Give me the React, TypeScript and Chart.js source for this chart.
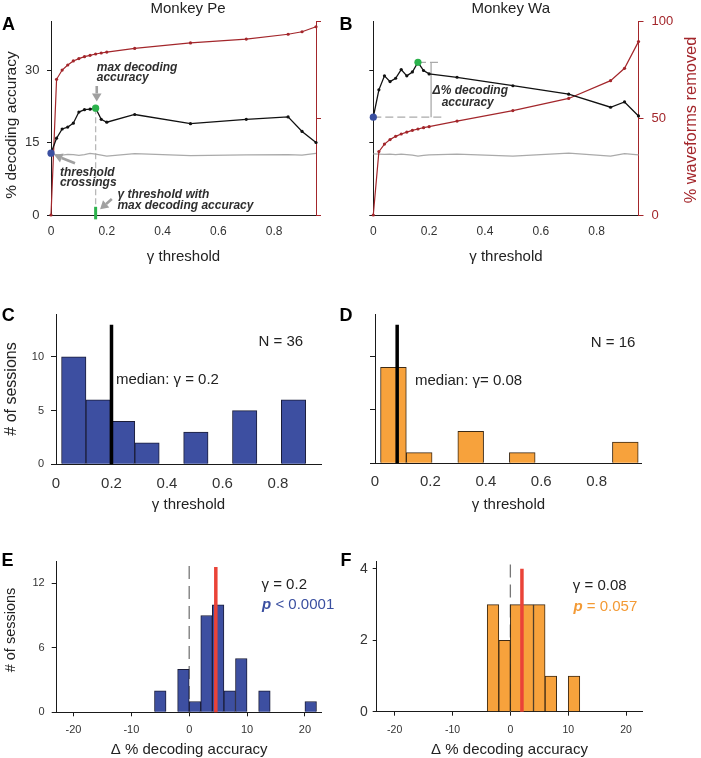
import React, { useEffect, useRef } from 'react';
import { Chart, registerables } from 'chart.js';

Chart.register(...registerables);

const FONT = "'Liberation Sans', Arial, Helvetica, sans-serif";
Chart.defaults.font.family = FONT;

// ---------------- data ----------------
const gammaSteps = [0, 0.02, 0.04, 0.06, 0.08, 0.1, 0.12, 0.14, 0.16, 0.18, 0.2, 0.3, 0.5, 0.7, 0.85, 0.9, 0.95];
const peAccuracy = [12.8, 15.9, 17.8, 18.2, 19.0, 21.3, 21.8, 21.9, 22.1, 19.8, 19.2, 20.8, 18.9, 19.8, 20.3, 17.3, 15.0];
const peRemoved = [0, 70.2, 75.0, 77.6, 79.7, 80.9, 81.9, 82.6, 83.3, 83.8, 84.3, 86.2, 89.0, 91.0, 93.5, 94.8, 97.4];
const peChance = [12.6, 12.5, 12.4, 12.55, 12.5, 12.35, 12.5, 12.75, 12.6, 12.4, 12.2, 12.7, 12.3, 12.45, 12.5, 12.4, 12.75];
const waAccuracy = [20.25, 25.9, 28.8, 27.6, 28.3, 30.1, 28.8, 29.6, 31.6, 29.9, 29.2, 28.5, 26.75, 25.0, 22.3, 23.4, 20.5];
const waRemoved = [0, 32.8, 36.7, 39.0, 40.7, 41.9, 42.9, 43.8, 44.5, 45.2, 45.7, 48.6, 54.0, 60.3, 69.5, 75.9, 89.7];
const waChance = [12.65, 12.6, 12.55, 12.6, 12.5, 12.6, 12.5, 12.4, 12.2, 12.35, 12.45, 12.6, 12.2, 12.8, 12.2, 12.7, 12.45];

const gammaTicks = [0, 0.2, 0.4, 0.6, 0.8];
const accuracyTicks = [0, 15, 30];
const removedTicks = [0, 50, 100];

const peBestGammaCenters = [0.064, 0.152, 0.24, 0.328, 0.416, 0.504, 0.592, 0.68, 0.768, 0.856];
const peBestGammaCounts = [10, 6, 4, 2, 0, 3, 0, 5, 0, 6];
const waBestGammaCenters = [0.0665, 0.1595, 0.2525, 0.3455, 0.4385, 0.5315, 0.6245, 0.7175, 0.8105, 0.9035];
const waBestGammaCounts = [9, 1, 0, 3, 0, 1, 0, 0, 0, 2];
const peMedianGamma = 0.2;
const waMedianGamma = 0.08;
const gammaSessionTicks = [0, 5, 10];

const peDeltaCenters = [-5, -3, -1, 1, 3, 5, 7, 9, 11, 13, 15, 17, 19, 21];
const peDeltaCounts = [2, 0, 4, 1, 9, 10, 2, 5, 0, 2, 0, 0, 0, 1];
const waDeltaCenters = [-3, -1, 1, 3, 5, 7, 9, 11];
const waDeltaCounts = [3, 2, 3, 3, 3, 1, 0, 1];
const peMedianDelta = 4.6;
const waMedianDelta = 2.0;
const deltaTicks = [-20, -10, 0, 10, 20];
const peDeltaSessionTicks = [0, 6, 12];
const waDeltaSessionTicks = [0, 2, 4];

// ---------------- styles ----------------
const DARKRED = '#a3262b';
const BLUE_DOT = '#3a4fa0';
const GREEN = '#2bb24c';
const BLUE_BAR = '#3d4fa1';
const ORANGE = '#f7a23c';
const ORANGE_TXT = '#f39a35';
const RED_LINE = '#ea4338';
const GRAY_LINE = '#aaaaaa';
const AXIS = '#1a1a1a';
const TICK = '#333333';
const TXT = '#222222';
const ANN = '#2e2e2e';
const ARROW = '#a0a0a0';

const peMax = peAccuracy.indexOf(Math.max(...peAccuracy));
const waMax = waAccuracy.indexOf(Math.max(...waAccuracy));

// ---------------- helpers ----------------
function axis(o: any) {
  const horiz = o.position === 'bottom';
  const tl = o.tickLen ?? 0;
  return {
    type: 'linear',
    position: o.position,
    min: o.min,
    max: o.max,
    offset: false,
    afterBuildTicks: (s: any) => {
      s.ticks = o.ticks.map((v: number) => ({ value: v }));
    },
    afterFit: (s: any) => {
      if (horiz) s.height = o.size;
      else s.width = o.size;
    },
    ticks: {
      display: o.showLabels !== false,
      font: { size: o.labelFont ?? 12 },
      color: o.labelColor ?? TICK,
      padding: o.labelPad ?? 6,
      autoSkip: false,
      maxRotation: 0,
      minRotation: 0,
      callback: (v: any) => String(v),
    },
    grid: {
      display: true,
      offset: false,
      drawOnChartArea: false,
      drawTicks: tl > 0,
      tickLength: tl,
      tickWidth: 1,
      color: o.lineColor ?? AXIS,
    },
    border: { display: true, color: o.lineColor ?? AXIS, width: 1 },
    title: o.title
      ? {
          display: true,
          text: o.title,
          font: { size: o.titleFont ?? 15, lineHeight: o.titleLH ?? 1.2 },
          color: TXT,
          padding: { top: 0, bottom: o.titlePad ?? 4 },
        }
      : { display: false },
  };
}

function base(padding: any, scales: any) {
  return {
    responsive: false,
    animation: false,
    events: [],
    layout: { padding, autoPadding: false },
    plugins: { legend: { display: false }, tooltip: { enabled: false }, title: { display: false } },
    scales,
  };
}

function overlay(under: (c: any) => void, over: (c: any) => void) {
  return {
    id: 'overlay',
    beforeDatasetsDraw(c: any) {
      c.ctx.save();
      under(c);
      c.ctx.restore();
    },
    afterDraw(c: any) {
      c.ctx.save();
      over(c);
      c.ctx.restore();
    },
  };
}

function txt(ctx: any, s: string, x: number, y: number, font: string, color: string, align = 'left', baseline = 'alphabetic') {
  ctx.save();
  ctx.font = font;
  ctx.fillStyle = color;
  ctx.textAlign = align;
  ctx.textBaseline = baseline;
  ctx.fillText(s, x, y);
  ctx.restore();
}

function vtxt(ctx: any, s: string, cx: number, cy: number, font: string, color: string) {
  ctx.save();
  ctx.translate(cx, cy);
  ctx.rotate(-Math.PI / 2);
  ctx.font = font;
  ctx.fillStyle = color;
  ctx.textAlign = 'center';
  ctx.textBaseline = 'middle';
  ctx.fillText(s, 0, 0);
  ctx.restore();
}

function rich(ctx: any, parts: [string, string][], x: number, y: number, color: string) {
  ctx.save();
  ctx.fillStyle = color;
  ctx.textAlign = 'left';
  ctx.textBaseline = 'alphabetic';
  let cx = x;
  for (const [s, f] of parts) {
    ctx.font = f;
    ctx.fillText(s, cx, y);
    cx += ctx.measureText(s).width;
  }
  ctx.restore();
}

function seg(ctx: any, x1: number, y1: number, x2: number, y2: number, color: string, w: number, dash: number[] = []) {
  ctx.save();
  ctx.strokeStyle = color;
  ctx.lineWidth = w;
  ctx.setLineDash(dash);
  ctx.beginPath();
  ctx.moveTo(x1, y1);
  ctx.lineTo(x2, y2);
  ctx.stroke();
  ctx.restore();
}

function arrow(ctx: any, x1: number, y1: number, x2: number, y2: number, color: string, w = 2.6, hl = 8, hw = 4.8) {
  const a = Math.atan2(y2 - y1, x2 - x1);
  const bx = x2 - hl * Math.cos(a);
  const by = y2 - hl * Math.sin(a);
  ctx.save();
  ctx.strokeStyle = color;
  ctx.fillStyle = color;
  ctx.lineWidth = w;
  ctx.beginPath();
  ctx.moveTo(x1, y1);
  ctx.lineTo(bx, by);
  ctx.stroke();
  ctx.beginPath();
  ctx.moveTo(x2, y2);
  ctx.lineTo(bx + hw * Math.sin(a), by - hw * Math.cos(a));
  ctx.lineTo(bx - hw * Math.sin(a), by + hw * Math.cos(a));
  ctx.closePath();
  ctx.fill();
  ctx.restore();
}

const f = (size: number, style = '') => `${style} ${size}px ${FONT}`.trim();
const BI12 = f(12, 'italic bold');

function series(vals: number[], color: string, w: number, pr: number, order: number, yAxisID: string) {
  return {
    type: 'line',
    data: gammaSteps.map((g, i) => ({ x: g, y: vals[i] })),
    borderColor: color,
    backgroundColor: color,
    borderWidth: w,
    pointRadius: pr,
    pointHoverRadius: pr,
    pointBackgroundColor: color,
    pointBorderWidth: 0,
    tension: 0,
    fill: false,
    order,
    yAxisID,
    clip: false,
  };
}

function dot(x: number, y: number, color: string) {
  return {
    type: 'line',
    data: [{ x, y }],
    showLine: false,
    pointRadius: 3.6,
    pointHoverRadius: 3.6,
    pointBackgroundColor: color,
    pointBorderWidth: 0,
    order: 0,
    yAxisID: 'y',
    clip: false,
  };
}

function bars(centers: number[], counts: number[], color: string, border: string) {
  return {
    type: 'bar',
    data: centers.map((c, i) => ({ x: c, y: counts[i] })),
    backgroundColor: color,
    borderColor: border,
    borderWidth: 1,
    barPercentage: 1,
    categoryPercentage: 1,
    order: 1,
  };
}

function vline(xv: number, yTop: number, color: string, w: number, order: number, dash: number[] = []) {
  return {
    type: 'line',
    data: [
      { x: xv, y: yTop },
      { x: xv, y: 0 },
    ],
    borderColor: color,
    borderWidth: w,
    borderDash: dash,
    borderCapStyle: 'butt',
    pointRadius: 0,
    pointHoverRadius: 0,
    order,
    clip: false,
  };
}

// ---------------- panel A ----------------
const makeA = () => ({
  type: 'line',
  data: {
    datasets: [
      dot(gammaSteps[0], peAccuracy[0], BLUE_DOT),
      dot(gammaSteps[peMax], peAccuracy[peMax], GREEN),
      series(peAccuracy, '#111111', 1.3, 1.6, 1, 'y'),
      series(peRemoved, DARKRED, 1.2, 1.6, 2, 'yR'),
      series(peChance, GRAY_LINE, 1.2, 0, 3, 'y'),
    ],
  },
  options: base(
    { top: 21.7, left: 0, right: 0, bottom: 0 },
    {
      x: axis({ position: 'bottom', min: 0, max: 0.95, ticks: gammaTicks, size: 60, labelFont: 12, labelPad: 9.5, title: 'γ threshold', titleFont: 15, titlePad: 9 }),
      y: axis({ position: 'left', min: 0, max: 40, ticks: accuracyTicks, size: 51, labelFont: 13, labelPad: 7.5, tickLen: 4 }),
      yR: axis({ position: 'right', min: 0, max: 100, ticks: removedTicks, size: 34, showLabels: false, tickLen: 5, lineColor: DARKRED }),
    }
  ),
  plugins: [
    overlay(
      (c) => {
        const { ctx } = c;
        const X = (v: number) => c.scales.x.getPixelForValue(v);
        const Y = (v: number) => c.scales.y.getPixelForValue(v);
        const bx = X(gammaSteps[peMax]);
        seg(ctx, bx, Y(peAccuracy[peMax]), bx, Y(1.7), '#b8b8b8', 1.3, [6, 3]);
        seg(ctx, bx, Y(1.7), bx, Y(-0.9), GREEN, 3);
      },
      (c) => {
        const { ctx } = c;
        const X = (v: number) => c.scales.x.getPixelForValue(v);
        const Y = (v: number) => c.scales.y.getPixelForValue(v);
        txt(ctx, 'A', 8.5, 25, f(18, 'bold'), '#000', 'center', 'middle');
        txt(ctx, 'Monkey Pe', 188, 9, f(15), TXT, 'center', 'middle');
        vtxt(ctx, '% decoding accuracy', 12, 125, f(15.5), TXT);
        txt(ctx, 'max decoding', X(0.164), Y(29.9), BI12, ANN);
        txt(ctx, 'accuracy', X(0.164), Y(27.65), BI12, ANN);
        arrow(ctx, X(0.164), Y(26.7), X(0.164), Y(23.5), ARROW);
        txt(ctx, 'threshold', X(0.032), Y(8.0), BI12, ANN);
        txt(ctx, 'crossings', X(0.032), Y(6.1), BI12, ANN);
        arrow(ctx, X(0.086), Y(10.7), X(0.012), Y(12.4), ARROW);
        txt(ctx, 'γ threshold with', X(0.238), Y(3.5), BI12, ANN);
        txt(ctx, 'max decoding accuracy', X(0.238), Y(1.3), BI12, ANN);
        arrow(ctx, X(0.218), Y(3.3), X(0.176), Y(1.2), ARROW);
      }
    ),
  ],
});

// ---------------- panel B ----------------
const makeB = () => ({
  type: 'line',
  data: {
    datasets: [
      dot(gammaSteps[0], waAccuracy[0], BLUE_DOT),
      dot(gammaSteps[waMax], waAccuracy[waMax], GREEN),
      series(waAccuracy, '#111111', 1.3, 1.6, 1, 'y'),
      series(waRemoved, DARKRED, 1.2, 1.6, 2, 'yR'),
      series(waChance, GRAY_LINE, 1.2, 0, 3, 'y'),
    ],
  },
  options: base(
    { top: 21.7, left: 0, right: 0, bottom: 0 },
    {
      x: axis({ position: 'bottom', min: 0, max: 0.95, ticks: gammaTicks, size: 60, labelFont: 12, labelPad: 9.5, title: 'γ threshold', titleFont: 15, titlePad: 9 }),
      y: axis({ position: 'left', min: 0, max: 40, ticks: accuracyTicks, size: 38.3, showLabels: false, tickLen: 4 }),
      yR: axis({ position: 'right', min: 0, max: 100, ticks: removedTicks, size: 62.5, labelFont: 13, labelPad: 8, labelColor: DARKRED, tickLen: 5, lineColor: DARKRED }),
    }
  ),
  plugins: [
    overlay(
      (c) => {
        const { ctx } = c;
        const X = (v: number) => c.scales.x.getPixelForValue(v);
        const Y = (v: number) => c.scales.y.getPixelForValue(v);
        const yb = Y(waAccuracy[0]);
        const yg = Y(waAccuracy[waMax]);
        seg(ctx, X(gammaSteps[0]), yb, X(0.245), yb, '#aaaaaa', 1.3, [8, 4]);
        seg(ctx, X(gammaSteps[waMax]), yg, X(0.245), yg, '#aaaaaa', 1.3, [8, 4]);
        seg(ctx, X(0.207), yg, X(0.207), yb, '#aaaaaa', 1.3);
      },
      (c) => {
        const { ctx } = c;
        const X = (v: number) => c.scales.x.getPixelForValue(v);
        const Y = (v: number) => c.scales.y.getPixelForValue(v);
        txt(ctx, 'B', 11, 25, f(18, 'bold'), '#000', 'center', 'middle');
        txt(ctx, 'Monkey Wa', 175.7, 9, f(15), TXT, 'center', 'middle');
        vtxt(ctx, '% waveforms removed', 356.7, 120, f(16.4), DARKRED);
        txt(ctx, 'Δ% decoding', X(0.2125), Y(25.0), BI12, ANN);
        txt(ctx, 'accuracy', X(0.245), Y(22.55), BI12, ANN);
      }
    ),
  ],
});

// ---------------- panel C ----------------
const makeC = () => ({
  type: 'bar',
  data: {
    datasets: [
      vline(peMedianGamma, 13, '#000000', 3.5, 0),
      bars(peBestGammaCenters, peBestGammaCounts, BLUE_BAR, '#1b1d38'),
    ],
  },
  options: base(
    { top: 19, left: 0, right: 29, bottom: 0 },
    {
      x: axis({ position: 'bottom', min: 0, max: 0.955, ticks: gammaTicks, size: 55.7, labelFont: 15, labelPad: 10.7, title: 'γ threshold', titleFont: 15, titlePad: 6 }),
      y: axis({ position: 'left', min: 0, max: 14, ticks: gammaSessionTicks, size: 56, labelFont: 11, labelPad: 7, tickLen: 5 }),
    }
  ),
  plugins: [
    overlay(
      () => {},
      (c) => {
        const { ctx } = c;
        const X = (v: number) => c.scales.x.getPixelForValue(v);
        const Y = (v: number) => c.scales.y.getPixelForValue(v);
        txt(ctx, 'C', 8.3, 21, f(18, 'bold'), '#000', 'center', 'middle');
        vtxt(ctx, '# of sessions', 11.7, 94, f(16), TXT);
        txt(ctx, 'N = 36', X(0.73), Y(11.05), f(15), TXT);
        txt(ctx, 'median: γ = 0.2', X(0.216), Y(7.5), f(15), TXT);
      }
    ),
  ],
});

// ---------------- panel D ----------------
const makeD = () => ({
  type: 'bar',
  data: {
    datasets: [
      vline(waMedianGamma, 13, '#000000', 3.5, 0),
      bars(waBestGammaCenters, waBestGammaCounts, ORANGE, '#3d2a14'),
    ],
  },
  options: base(
    { top: 19, left: 0, right: 59.2, bottom: 0 },
    {
      x: axis({ position: 'bottom', min: 0, max: 0.963, ticks: gammaTicks, size: 56.7, labelFont: 15, labelPad: 9.4, title: 'γ threshold', titleFont: 15, titlePad: 6 }),
      y: axis({ position: 'left', min: 0, max: 14, ticks: gammaSessionTicks, size: 40, showLabels: false, tickLen: 5 }),
    }
  ),
  plugins: [
    overlay(
      () => {},
      (c) => {
        const { ctx } = c;
        const X = (v: number) => c.scales.x.getPixelForValue(v);
        const Y = (v: number) => c.scales.y.getPixelForValue(v);
        txt(ctx, 'D', 11, 21, f(18, 'bold'), '#000', 'center', 'middle');
        txt(ctx, 'N = 16', X(0.779), Y(10.95), f(15), TXT);
        txt(ctx, 'median: γ= 0.08', X(0.1444), Y(7.38), f(15), TXT);
      }
    ),
  ],
});

// ---------------- panel E ----------------
const makeE = () => ({
  type: 'bar',
  data: {
    datasets: [
      vline(peMedianDelta, 13.5, RED_LINE, 3.5, 0),
      bars(peDeltaCenters, peDeltaCounts, BLUE_BAR, '#1b1d38'),
      vline(0, 13.6, '#777777', 1.3, 2, [13, 7]),
    ],
  },
  options: base(
    { top: 21.7, left: 0, right: 28.3, bottom: 0 },
    {
      x: axis({ position: 'bottom', min: -22.9, max: 22.9, ticks: deltaTicks, size: 45.7, labelFont: 11, labelPad: 7.5, tickLen: 4, title: 'Δ % decoding accuracy', titleFont: 15, titleLH: 1, titlePad: 0.5 }),
      y: axis({ position: 'left', min: 0, max: 14, ticks: peDeltaSessionTicks, size: 56.7, labelFont: 11, labelPad: 7, tickLen: 5 }),
    }
  ),
  plugins: [
    overlay(
      () => {},
      (c) => {
        const { ctx } = c;
        const X = (v: number) => c.scales.x.getPixelForValue(v);
        const Y = (v: number) => c.scales.y.getPixelForValue(v);
        txt(ctx, 'E', 7.5, 21, f(18, 'bold'), '#000', 'center', 'middle');
        vtxt(ctx, '# of sessions', 11, 90, f(14.5), TXT);
        txt(ctx, 'γ = 0.2', X(12.5), Y(11.44), f(15), TXT);
        rich(ctx, [['p', f(15, 'italic bold')], [' < 0.0001', f(15)]], X(12.6), Y(9.58), BLUE_DOT);
      }
    ),
  ],
});

// ---------------- panel F ----------------
const makeF = () => ({
  type: 'bar',
  data: {
    datasets: [
      vline(waMedianDelta, 4.0, RED_LINE, 3.5, 0),
      bars(waDeltaCenters, waDeltaCounts, ORANGE, '#3d2a14'),
      vline(0, 4.12, '#777777', 1.3, 2, [13, 7]),
    ],
  },
  options: base(
    { top: 21.7, left: 0, right: 58.7, bottom: 0 },
    {
      x: axis({ position: 'bottom', min: -23.1, max: 22.8, ticks: deltaTicks, size: 46.3, labelFont: 10.5, labelPad: 8.5, tickLen: 4, title: 'Δ % decoding accuracy', titleFont: 15, titleLH: 1, titlePad: 0.5 }),
      y: axis({ position: 'left', min: 0, max: 4.2, ticks: waDeltaSessionTicks, size: 41.7, labelFont: 14, labelPad: 5, tickLen: 4 }),
    }
  ),
  plugins: [
    overlay(
      () => {},
      (c) => {
        const { ctx } = c;
        const X = (v: number) => c.scales.x.getPixelForValue(v);
        const Y = (v: number) => c.scales.y.getPixelForValue(v);
        txt(ctx, 'F', 11, 21, f(18, 'bold'), '#000', 'center', 'middle');
        txt(ctx, 'γ = 0.08', X(10.8), Y(3.41), f(15), TXT);
        rich(ctx, [['p', f(15, 'italic bold')], [' = 0.057', f(15)]], X(10.9), Y(2.83), ORANGE_TXT);
      }
    ),
  ],
});

// ---------------- components ----------------
function ChartCanvas(props: { left: number; top: number; width: number; height: number; make: () => any }) {
  const ref = useRef<HTMLCanvasElement>(null);
  useEffect(() => {
    const chart = new Chart(ref.current as HTMLCanvasElement, props.make());
    return () => chart.destroy();
  }, []);
  return (
    <canvas
      ref={ref}
      width={props.width}
      height={props.height}
      style={{ position: 'absolute', left: props.left, top: props.top, width: props.width, height: props.height }}
    />
  );
}

export default function App() {
  return (
    <div style={{ position: 'absolute', left: 0, top: 0, width: 701, height: 758, background: '#ffffff', overflow: 'hidden' }}>
      <ChartCanvas left={0} top={0} width={350} height={275} make={makeA} />
      <ChartCanvas left={335} top={0} width={366} height={275} make={makeB} />
      <ChartCanvas left={0} top={295} width={350} height={225} make={makeC} />
      <ChartCanvas left={335} top={295} width={366} height={225} make={makeD} />
      <ChartCanvas left={0} top={540} width={350} height={218} make={makeE} />
      <ChartCanvas left={335} top={540} width={366} height={218} make={makeF} />
    </div>
  );
}
